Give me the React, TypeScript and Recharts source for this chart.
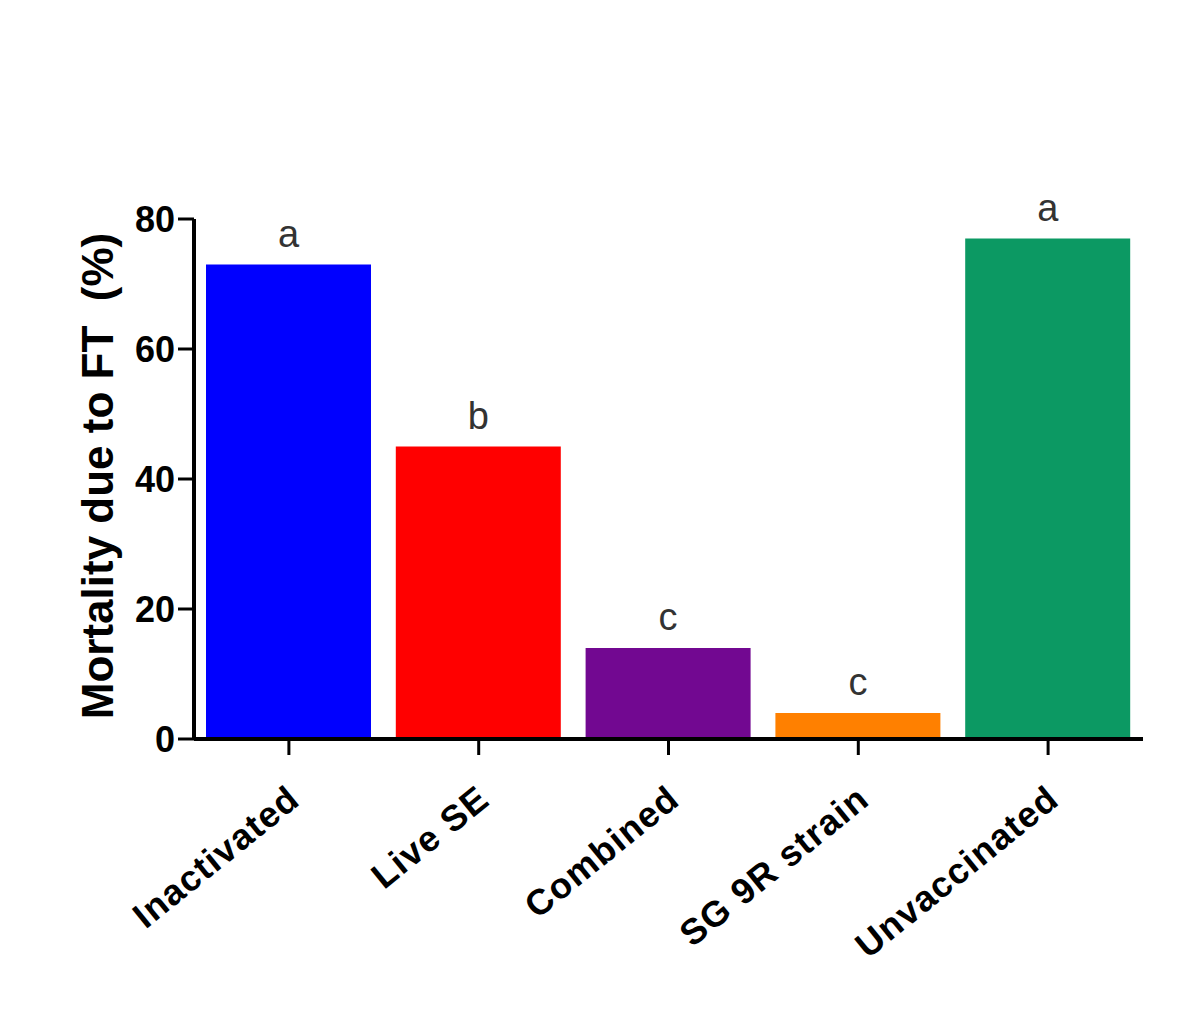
import React from 'react';
import { BarChart, Bar, XAxis, YAxis, Cell, LabelList } from 'recharts';

const categories = ['Inactivated', 'Live SE', 'Combined', 'SG 9R strain', 'Unvaccinated'];
const mortality = [73, 45, 14, 4, 77];
const groupLetters = ['a', 'b', 'c', 'c', 'a'];
const barColors = ['#0000ff', '#ff0000', '#720891', '#ff8000', '#0c9963'];
const yTicks = [0, 20, 40, 60, 80];

const data = categories.map((name, i) => ({
  name,
  value: mortality[i],
  letter: groupLetters[i],
}));

const FONT = '"Liberation Sans", Arial, sans-serif';

// rotated category labels, anchored at their end just below the tick
const CategoryTick = (props: any) => {
  const { x, y, payload } = props;
  return (
    <g transform={`translate(${x + 13},${y + 46})`}>
      <text
        transform="rotate(-39)"
        textAnchor="end"
        fontFamily={FONT}
        fontWeight="bold"
        fontSize={36}
        letterSpacing={1.2}
        fill="#000"
      >
        {payload.value}
      </text>
    </g>
  );
};

const App: React.FC = () => {
  return (
    <div style={{ position: 'absolute', left: 0, top: 0, background: '#fff' }}>
      <BarChart
        width={1182}
        height={1035}
        data={data}
        margin={{ top: 219, right: 39, bottom: 0, left: 0 }}
      >
        <XAxis
          dataKey="name"
          interval={0}
          axisLine={{ stroke: '#000', strokeWidth: 4 }}
          tickLine={{ stroke: '#000', strokeWidth: 3 }}
          tickSize={16}
          tick={<CategoryTick />}
          height={296}
        />
        <YAxis
          width={194}
          domain={[0, 80]}
          ticks={yTicks}
          interval={0}
          axisLine={{ stroke: '#000', strokeWidth: 4 }}
          tickLine={{ stroke: '#000', strokeWidth: 3 }}
          tickSize={16}
          tickMargin={3}
          tick={{ fontFamily: FONT, fontWeight: 'bold', fontSize: 36, fill: '#000' }}
          label={{
            value: 'Mortality due to FT\u00a0 (%)',
            angle: -90,
            position: 'center',
            dy: -3,
            style: { fontFamily: FONT, fontWeight: 'bold', fontSize: 44, fill: '#000' },
          }}
        />
        <Bar dataKey="value" barSize={165} isAnimationActive={false}>
          {data.map((d, i) => (
            <Cell key={d.name} fill={barColors[i]} />
          ))}
          <LabelList
            dataKey="letter"
            position="top"
            offset={18}
            style={{ fontFamily: FONT, fontSize: 38, fill: '#333' }}
          />
        </Bar>
      </BarChart>
    </div>
  );
};

export default App;
